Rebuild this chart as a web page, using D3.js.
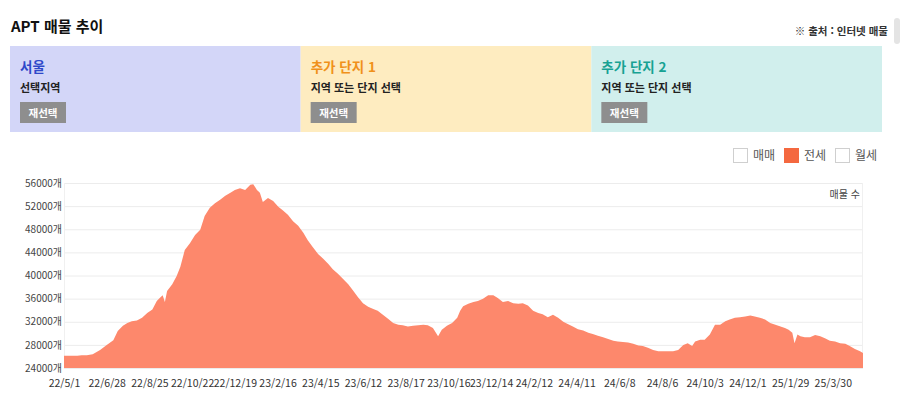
<!DOCTYPE html>
<html lang="ko">
<head>
<meta charset="utf-8">
<script src="https://cdn.jsdelivr.net/npm/d3@7"></script>
<style>
  html, body { margin: 0; padding: 0; background: #fff; }
  svg { display: block; font-family: "Noto Sans CJK KR", "Noto Sans", sans-serif; }
</style>
</head>
<body>
<div id="chart"></div>
<script>
// --- data ---
const panelTitles = ["서울", "추가 단지 1", "추가 단지 2"];
const panelSubtitles = ["선택지역", "지역 또는 단지 선택", "지역 또는 단지 선택"];
const legendItems = ["매매", "전세", "월세"];
const activeLegend = "전세";

// x axis: one category per day-point, label every 58 points
const tickLabels = ["22/5/1", "22/6/28", "22/8/25", "22/10/22", "22/12/19", "23/2/16",
  "23/4/15", "23/6/12", "23/8/17", "23/10/16", "23/12/14", "24/2/12", "24/4/11",
  "24/6/8", "24/8/6", "24/10/3", "24/12/1", "25/1/29", "25/3/30"];
const tickStep = 58;
const lastIndex = 1085;

const yTicks = [24000, 28000, 32000, 36000, 40000, 44000, 48000, 52000, 56000];

// category index of each reading and the listing count there (전세)
const pointIndex = [0, 8, 18, 24, 31, 39, 49, 58, 67, 73, 80, 86, 92, 99, 106, 113, 120, 126, 130, 134,
  137, 140, 147, 153, 158, 164, 171, 178, 185, 191, 198, 205, 212, 219, 226, 232, 239, 246, 253, 257,
  262, 266, 270, 277, 284, 291, 297, 304, 311, 318, 325, 331, 338, 345, 352, 359, 365, 372, 379, 386,
  392, 399, 406, 413, 420, 426, 433, 440, 447, 454, 460, 467, 474, 481, 488, 494, 501, 508, 513, 520,
  527, 534, 538, 542, 549, 556, 562, 569, 576, 583, 589, 596, 603, 610, 617, 623, 630, 637, 644, 650,
  657, 664, 671, 678, 684, 691, 698, 705, 712, 718, 725, 732, 739, 746, 752, 759, 766, 773, 780, 786,
  793, 800, 807, 813, 820, 827, 834, 841, 847, 853, 857, 864, 870, 877, 884, 891, 898, 904, 911, 918,
  925, 932, 938, 945, 952, 959, 966, 973, 979, 984, 989, 992, 996, 1000, 1006, 1013, 1020, 1027, 1034, 1040,
  1047, 1054, 1061, 1067, 1074, 1081, 1085];
const listings = [26100, 26100, 26100, 26200, 26200, 26400, 27100, 28000, 28800, 30400, 31300, 31800, 32100, 32200, 32700, 33500, 34100, 35600, 36100, 36600,
  35400, 37300, 38500, 39900, 41500, 44400, 45600, 47000, 47900, 50300, 51700, 52500, 53100, 53800, 54300, 54800, 55100, 54800, 55700, 55800,
  54800, 54300, 52700, 53400, 52900, 51900, 51300, 50500, 49400, 48600, 47400, 46100, 44900, 43700, 42900, 42000, 41100, 40300, 39400, 38500,
  37500, 36300, 35200, 34600, 34200, 33900, 33200, 32500, 31800, 31500, 31400, 31200, 31300, 31400, 31500, 31400, 30900, 29500, 30600, 31300,
  31800, 32700, 33900, 34700, 35100, 35400, 35600, 36000, 36600, 36600, 36100, 35400, 35600, 35200, 35100, 35200, 34800, 33900, 33500, 33300,
  32800, 33200, 32700, 32000, 31600, 31200, 30700, 30500, 30100, 29900, 29600, 29300, 29000, 28700, 28600, 28500, 28400, 28200, 27900, 27800,
  27500, 27100, 26900, 26900, 26900, 26900, 27100, 28000, 28300, 27800, 28600, 28900, 28900, 29800, 31500, 31500, 32100, 32400, 32700, 32800,
  32900, 33100, 32900, 32700, 32400, 31800, 31500, 31200, 30900, 30600, 30100, 28300, 29800, 29500, 29300, 29300, 29700, 29500, 29100, 28700,
  28600, 28300, 28200, 27800, 27300, 26900, 26600];

const W = 900, H = 397;
const svg = d3.select("#chart").append("svg").attr("width", W).attr("height", H);

// ---- header ----
svg.append("text").attr("x", 11).attr("y", 32)
  .attr("font-size", 15).attr("font-weight", 700).attr("fill", "#111")
  .text("APT 매물 추이");
svg.append("text").attr("x", 888).attr("y", 35).attr("text-anchor", "end")
  .attr("font-size", 10.5).attr("font-weight", 700).attr("fill", "#333")
  .text("※ 출처 : 인터넷 매물");
svg.append("rect").attr("x", 894).attr("y", 18).attr("width", 6).attr("height", 26)
  .attr("rx", 3).attr("fill", "#e4e4e4");

// ---- selection panels ----
const panelColors = ["#d3d6f8", "#feecc0", "#d1efed"];
const titleColors = ["#2e48c9", "#f0911a", "#17a293"];
const panelX = d3.scaleBand().domain(d3.range(3)).range([10, 882]);
const panels = svg.selectAll("g.panel").data(panelTitles).join("g")
  .attr("class", "panel")
  .attr("transform", (d, i) => `translate(${panelX(i)},46)`);
panels.append("rect").attr("width", panelX.bandwidth()).attr("height", 86)
  .attr("fill", (d, i) => panelColors[i]);
panels.append("text").attr("x", 10).attr("y", 26)
  .attr("font-size", 13.5).attr("font-weight", 700)
  .attr("fill", (d, i) => titleColors[i]).text(d => d);
panels.append("text").attr("x", 10).attr("y", 46)
  .attr("font-size", 11).attr("font-weight", 700).attr("fill", "#222")
  .text((d, i) => panelSubtitles[i]);
panels.append("rect").attr("x", 10).attr("y", 56).attr("width", 46).attr("height", 21)
  .attr("fill", "#8e8e8e");
panels.append("text").attr("x", 33).attr("y", 70.5).attr("text-anchor", "middle")
  .attr("font-size", 10.5).attr("font-weight", 700).attr("fill", "#fff").text("재선택");

// ---- legend ----
const legendX = d3.scalePoint().domain(legendItems).range([733, 835]);
const lg = svg.selectAll("g.lg").data(legendItems).join("g")
  .attr("class", "lg").attr("transform", d => `translate(${legendX(d)},148)`);
lg.append("rect").attr("x", 0.5).attr("y", 0.5).attr("width", 14).attr("height", 14)
  .attr("fill", d => d === activeLegend ? "#f4683f" : "#fff")
  .attr("stroke", d => d === activeLegend ? "#f4683f" : "#cfcfcf");
lg.append("text").attr("x", 20).attr("y", 12).attr("font-size", 12).attr("fill", "#555")
  .text(d => d);

// ---- chart ----
const x = d3.scaleLinear().domain([0, lastIndex]).range([64, 863]);
const y = d3.scaleLinear().domain([24000, 56000]).range([368, 183]);

svg.append("g").selectAll("line").data(yTicks).join("line")
  .attr("x1", 64).attr("x2", 863)
  .attr("y1", d => y(d) + 0.5).attr("y2", d => y(d) + 0.5)
  .attr("stroke", "#ececec");
svg.append("line").attr("x1", 64.5).attr("x2", 64.5).attr("y1", 183).attr("y2", 368).attr("stroke", "#f0f0f0");
svg.append("line").attr("x1", 862.5).attr("x2", 862.5).attr("y1", 183).attr("y2", 368).attr("stroke", "#f0f0f0");

const series = pointIndex.map((d, i) => [d, listings[i]]);
const area = d3.area()
  .x(d => x(d[0]))
  .y0(y(24000))
  .y1(d => y(d[1]));
svg.append("path").datum(series).attr("d", area).attr("fill", "#fd886c");

// y axis labels
const yAxis = svg.append("g").attr("transform", "translate(62,0)")
  .call(d3.axisLeft(y).tickValues(yTicks).tickSize(0).tickPadding(0).tickFormat(d => d + "개"));
yAxis.select(".domain").remove();
yAxis.selectAll("text").attr("font-size", 10).attr("fill", "#444")
  .attr("font-family", "'Noto Sans CJK KR', sans-serif");

// x axis labels
const xTicks = tickLabels.map((d, i) => i * tickStep);
const xAxis = svg.append("g").attr("transform", "translate(0,380)")
  .call(d3.axisBottom(x).tickValues(xTicks).tickSize(0).tickPadding(0)
    .tickFormat((d, i) => tickLabels[i]));
xAxis.select(".domain").remove();
xAxis.selectAll("text").attr("font-size", 10.5).attr("fill", "#333")
  .attr("font-family", "'Noto Sans CJK KR', sans-serif");

svg.append("text").attr("x", 860).attr("y", 198).attr("text-anchor", "end")
  .attr("font-size", 10).attr("fill", "#444").text("매물 수");
</script>
</body>
</html>
